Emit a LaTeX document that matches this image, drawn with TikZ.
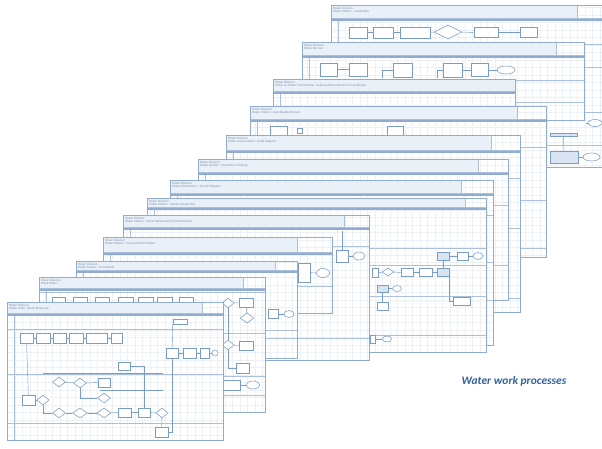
\documentclass[tikz,border=0pt]{standalone}
\usepackage{fontspec}
\setmainfont{Carlito}
\usepackage{tikz}
\usetikzlibrary{shapes,shapes.geometric}
\definecolor{linec}{RGB}{170,192,220}
\definecolor{rulec}{RGB}{145,172,207}
\definecolor{headc}{RGB}{234,240,248}
\definecolor{gridc}{RGB}{236,241,247}
\definecolor{nodec}{RGB}{122,157,200}
\definecolor{nodefill}{RGB}{216,228,242}
\definecolor{textc}{RGB}{125,145,172}
\definecolor{titlec}{RGB}{52,98,156}
\tikzstyle{task}=[draw=nodec,fill=white,line width=0.55pt,inner sep=0pt,minimum width=12pt,minimum height=9pt]
\tikzstyle{dark task}=[task,fill=nodefill]
\tikzstyle{gate}=[task,shape=diamond]
\tikzstyle{terminal}=[task,shape=ellipse]
\tikzstyle{flow}=[draw=nodec,line width=0.45pt]
\tikzstyle{headtext}=[anchor=north west,inner sep=0pt,align=left,text=textc,font=\fontsize{3.3}{3.9}\selectfont]
% one sheet: x1, y1, x2, y2, header height, box width, title, subtitle, lanes
\newcommand{\wsheet}[9]{%
  \fill[white] (#1,#2) rectangle (#3,#4);
  \begin{scope}
    \clip (#1,#2) rectangle (#3,#4);
    \draw[gridc,line width=0.3pt,step=7.5pt] (#1,#2) grid (#3,#4);
  \end{scope}
  \filldraw[fill=headc,draw=linec,line width=0.5pt] (#1,#2) rectangle ({#3-#6},{#2+#5});
  \draw[linec,line width=0.5pt] ({#3-#6},#2) rectangle (#3,{#2+#5});
  \draw[rulec,line width=0.6pt] (#1,{#2+#5+1.2}) -- (#3,{#2+#5+1.2});
  \draw[rulec,line width=0.4pt] (#1,{#2+#5+2.6}) -- (#3,{#2+#5+2.6});
  \foreach \ly in {#9} \draw[linec,line width=0.5pt] (#1,\ly) -- (#3,\ly);
  \draw[linec,line width=0.5pt] ({#1+7},{#2+#5+2.6}) -- ({#1+7},#4);
  \draw[rulec,line width=0.5pt] (#1,#2) rectangle (#3,#4);
  \node[style=headtext] (title-#1) at ({#1+2},{#2+1.6}) {#7\\#8};
}

\begin{document}
\begin{tikzpicture}[x=1pt,y=-1pt]
	\useasboundingbox (0,0) rectangle (602,448);
	\fill[white] (0,0) rectangle (602,448);

	% sheet 1
	\wsheet{331}{5}{612}{167}{13}{35}{Water Division}{Water Meters - Installation}{44,67,112,145}
	\node [style=task, minimum width=18pt, minimum height=11pt] (s1a) at (358, 32.5) {};
	\node [style=task, minimum width=20pt, minimum height=11pt] (s1b) at (383, 32.5) {};
	\node [style=task, minimum width=30pt, minimum height=11pt] (s1c) at (415, 32.5) {};
	\node [style=gate, minimum width=28pt, minimum height=14pt] (s1d) at (448, 32) {};
	\node [style=task, minimum width=24pt, minimum height=10pt] (s1e) at (486, 32.5) {};
	\node [style=task, minimum width=17pt, minimum height=10pt] (s1f) at (528.5, 32.5) {};
	\node [style=dark task, minimum width=27pt, minimum height=3pt] (s1g) at (563.5, 134.5) {};
	\node [style=dark task, minimum width=28pt, minimum height=12pt] (s1h) at (564, 157) {};
	\node [style=terminal, minimum width=17pt, minimum height=8pt] (s1i) at (591.5, 157) {};
	\node [style=terminal, minimum width=14pt, minimum height=7pt] (s1j) at (595, 123) {};
	\coordinate (s1k) at (586, 123);
	\draw [style=flow] (s1a) to (s1b);
	\draw [style=flow] (s1b) to (s1c);
	\draw [style=flow] (s1c) to (s1d);
	\draw [style=flow] (s1d) to (s1e);
	\draw [style=flow] (s1e) to (s1f);
	\draw [style=flow] (s1g) to (s1h);
	\draw [style=flow] (s1h) to (s1i);
	\draw [style=flow] (s1k) to (s1j);

	% sheet 2
	\wsheet{302}{42}{584}{120}{13}{28}{Water Division}{Water Service}{80,102}
	\node [style=task, minimum width=17pt, minimum height=13pt] (s2a) at (328.5, 69.5) {};
	\node [style=task, minimum width=18pt, minimum height=13pt] (s2b) at (358, 69.5) {};
	\node [style=task, minimum width=19pt, minimum height=14pt] (s2c) at (402.5, 70) {};
	\node [style=task, minimum width=19pt, minimum height=14pt] (s2d) at (452.5, 70) {};
	\node [style=task, minimum width=17pt, minimum height=13pt] (s2e) at (479.5, 70) {};
	\node [style=terminal, minimum width=18pt, minimum height=8pt] (s2f) at (506, 70) {};
	\coordinate (s2x) at (382, 78);
	\coordinate (s2y) at (437, 78);
	\draw [style=flow] (s2a) to (s2b);
	\draw [style=flow] (s2x) |- (s2c);
	\draw [style=flow] (s2y) |- (s2d);
	\draw [style=flow] (s2d) to (s2e);
	\draw [style=flow] (s2e) to (s2f);

	% sheet 3
	\wsheet{273}{79}{515}{230}{12}{0}{Water Division}{Check on Water Connections - Leak Location and Service Line Repair}{110}

	% sheet 4
	\wsheet{250}{106}{546}{257}{13}{29}{Water Division}{Water Meters - Auto Reads/Manual}{147,200,248}
	\node [style=task, minimum width=17pt, minimum height=9pt] (s4a) at (278.5, 131) {};
	\node [style=task, minimum width=5pt, minimum height=5pt] (s4b) at (300, 131) {};
	\node [style=task, minimum width=16pt, minimum height=9pt] (s4c) at (395, 131) {};

	% sheet 5
	\wsheet{226}{135}{520}{312}{15}{29}{Water Division}{Water Conservation - Audit Request}{178,228,298}

	% sheet 6
	\wsheet{198}{159}{508}{300}{13}{30}{Water Division}{Water Quality - Preventive Flushing}{205,265}

	% sheet 7
	\wsheet{170}{180}{493}{345}{13}{32}{Water Division}{Water Distribution - Service Request}{215,262,300}

	% sheet 8
	\wsheet{147}{198}{486}{352}{9}{21}{Water Division}{Water Meters - Meter Change Out}{248,265,296,335}
	\node [style=dark task, minimum width=12pt, minimum height=8pt] (e1) at (443, 256) {};
	\node [style=task, minimum width=11pt, minimum height=8pt] (e2) at (462.5, 256) {};
	\node [style=terminal, minimum width=10pt, minimum height=7pt] (e3) at (478, 256) {};
	\node [style=task, minimum width=6pt, minimum height=9pt] (e4) at (375, 272.5) {};
	\node [style=gate, minimum width=12pt, minimum height=8pt] (e5) at (388, 272) {};
	\node [style=task, minimum width=12pt, minimum height=8pt] (e6) at (407, 272.5) {};
	\node [style=task, minimum width=13pt, minimum height=8pt] (e7) at (425.5, 272.5) {};
	\node [style=dark task, minimum width=12pt, minimum height=8pt] (e8) at (443, 272.5) {};
	\node [style=dark task, minimum width=11pt, minimum height=7pt] (e9) at (382.5, 288.5) {};
	\node [style=terminal, minimum width=9pt, minimum height=6pt] (e10) at (397, 288.5) {};
	\node [style=task, minimum width=11pt, minimum height=8pt] (e11) at (382.5, 306) {};
	\node [style=task, minimum width=5pt, minimum height=8pt] (e12) at (373, 339) {};
	\node [style=terminal, minimum width=9pt, minimum height=6pt] (e13) at (387, 339) {};
	\node [style=task, minimum width=17pt, minimum height=8pt] (e14) at (461.5, 301) {};
	\draw [style=flow] (e1) to (e2);
	\draw [style=flow] (e2) to (e3);
	\draw [style=flow] (e4) to (e5);
	\draw [style=flow] (e5) to (e6);
	\draw [style=flow] (e6) to (e7);
	\draw [style=flow] (e7) to (e8);
	\draw [style=flow] (e1) to (e8);
	\draw [style=flow] (e9) to (e10);
	\draw [style=flow] (e9) to (e11);
	\draw [style=flow] (e12) to (e13);
	\draw [style=flow] (e8.south east) |- (e14.west);

	% sheet 9
	\wsheet{123}{215}{369}{360}{12}{25}{Water Division}{Water Meters - Meter Replacement (Commercial)}{246,338}
	\node [style=task, minimum width=12pt, minimum height=12pt] (n9a) at (342, 256) {};
	\node [style=terminal, minimum width=12pt, minimum height=8pt] (n9b) at (359, 256) {};
	\coordinate (n9c) at (342, 231);
	\draw [style=flow] (n9c) to (n9a);
	\draw [style=flow] (n9a) to (n9b);

	% sheet 10
	\wsheet{103}{237}{332}{313}{15}{35}{Water Division}{Water Meters - Pressure Relief Valves}{286}
	\node [style=task, minimum width=12pt, minimum height=19pt] (n10a) at (304, 272.5) {};
	\node [style=terminal, minimum width=13pt, minimum height=9pt] (n10b) at (323, 273) {};
	\draw [style=flow] (n10a) to (n10b);

	% sheet 11
	\wsheet{76}{261}{297}{358}{9}{22}{Water Division}{Water Meters - Final Reads}{330,338}
	\node [style=task, minimum width=10pt, minimum height=9pt] (n11a) at (273, 314) {};
	\node [style=terminal, minimum width=10pt, minimum height=7pt] (n11b) at (289, 314) {};
	\draw [style=flow] (n11a) to (n11b);

	% sheet 12
	\wsheet{39}{277}{265}{412}{11}{22}{Water Division}{Work Order}{292,333,376,395}
	\foreach \ux/\uw [count=\ui] in {58.5/13, 80/14, 102/14, 125.5/15, 145.5/15, 164.5/15, 186/14}
		\node [style=task, minimum width=\uw pt, minimum height=10pt] (u\ui) at (\ux, 302) {};
	\node [style=gate, minimum width=12pt, minimum height=10pt] (s12a) at (228, 303) {};
	\node [style=task, minimum width=14pt, minimum height=9pt] (s12b) at (246, 302.5) {};
	\node [style=gate, minimum width=14pt, minimum height=10pt] (s12c) at (247, 318) {};
	\node [style=gate, minimum width=12pt, minimum height=10pt] (s12d) at (228, 345) {};
	\node [style=task, minimum width=14pt, minimum height=9pt] (s12e) at (246, 345.5) {};
	\node [style=task, minimum width=13pt, minimum height=10pt] (s12f) at (242.5, 368) {};
	\node [style=task, minimum width=18pt, minimum height=10pt] (s12g) at (231, 385) {};
	\node [style=terminal, minimum width=13pt, minimum height=8pt] (s12h) at (253, 385) {};
	\draw [style=flow] (s12a) to (s12b);
	\draw [style=flow] (s12b) to (s12c);
	\draw [style=flow] (s12a) to (s12d);
	\draw [style=flow] (s12d) to (s12e);
	\draw [style=flow] (s12d.south) |- (s12f.west);
	\draw [style=flow] (s12g) to (s12h);

	% sheet 13
	\wsheet{7}{302}{223}{440}{11}{21}{Water Division}{Water Main - Break Response}{329,374,423}
	\node [style=task, minimum width=13pt, minimum height=10pt] (t1) at (26.5, 338) {};
	\node [style=task, minimum width=14pt, minimum height=10pt] (t2) at (43, 338) {};
	\node [style=task, minimum width=13pt, minimum height=10pt] (t3) at (59.5, 338) {};
	\node [style=task, minimum width=14pt, minimum height=10pt] (t4) at (76, 338) {};
	\node [style=task, minimum width=21pt, minimum height=10pt] (t5) at (96.5, 338) {};
	\node [style=task, minimum width=11pt, minimum height=10pt] (t6) at (116.5, 338) {};
	\node [style=task, minimum width=14pt, minimum height=5pt] (t7) at (180, 321.5) {};
	\node [style=task, minimum width=12pt, minimum height=10pt] (t8) at (172, 353) {};
	\node [style=task, minimum width=13pt, minimum height=10pt] (t9) at (189.5, 353) {};
	\node [style=task, minimum width=9pt, minimum height=10pt] (t10) at (204.5, 353) {};
	\node [style=terminal, minimum width=6pt, minimum height=6pt] (t11) at (215, 353) {};
	\node [style=task, minimum width=12pt, minimum height=8pt] (t12) at (124, 366) {};
	\node [style=gate, minimum width=13pt, minimum height=10pt] (t13) at (59, 382) {};
	\node [style=gate, minimum width=13pt, minimum height=10pt] (t14) at (80, 383) {};
	\node [style=task, minimum width=12pt, minimum height=9pt] (t15) at (104, 382.5) {};
	\node [style=gate, minimum width=13pt, minimum height=10pt] (t16) at (104, 398) {};
	\node [style=task, minimum width=13pt, minimum height=10pt] (t17) at (28.5, 400) {};
	\node [style=gate, minimum width=12pt, minimum height=10pt] (t18) at (43, 400) {};
	\node [style=gate, minimum width=13pt, minimum height=10pt] (t19) at (59, 413) {};
	\node [style=gate, minimum width=15pt, minimum height=10pt] (t20) at (80, 413) {};
	\node [style=gate, minimum width=14pt, minimum height=10pt] (t21) at (104, 413) {};
	\node [style=task, minimum width=13pt, minimum height=9pt] (t22) at (124.5, 412.5) {};
	\node [style=task, minimum width=12pt, minimum height=9pt] (t23) at (144, 412.5) {};
	\node [style=gate, minimum width=12pt, minimum height=10pt] (t24) at (162, 413) {};
	\node [style=task, minimum width=13pt, minimum height=10pt] (t25) at (161.5, 432) {};
	\coordinate (t26) at (43, 373);
	\coordinate (t27) at (163, 373);
	\coordinate (t28) at (100, 390);
	\coordinate (t29) at (163, 390);
	\draw [style=flow] (t1) to (t2);
	\draw [style=flow] (t2) to (t3);
	\draw [style=flow] (t3) to (t4);
	\draw [style=flow] (t4) to (t5);
	\draw [style=flow] (t5) to (t6);
	\draw [style=flow] (t7.south west) to (t8);
	\draw [style=flow] (t8) to (t9);
	\draw [style=flow] (t9) to (t10);
	\draw [style=flow] (t10) to (t11);
	\draw [style=flow] (t8.south) |- (t25.east);
	\draw [style=flow] (t26) to (t27);
	\draw [style=flow] (t28) to (t29);
	\draw [style=flow] (t13) to (t14);
	\draw [style=flow] (t14) to (t15);
	\draw [style=flow] (t14.south) |- (t16.west);
	\draw [style=flow] (t1) to (t17);
	\draw [style=flow] (t17) to (t18);
	\draw [style=flow] (t18.south) |- (t19.west);
	\draw [style=flow] (t19) to (t20);
	\draw [style=flow] (t20) to (t21);
	\draw [style=flow] (t21) to (t22);
	\draw [style=flow] (t22) to (t23);
	\draw [style=flow] (t23) to (t24);
	\draw [style=flow] (t24) to (t25);
	\draw [style=flow] (t12.east) -| (t23.north);

	\node [text=titlec, font=\fontsize{11.5}{14}\selectfont\bfseries\itshape] (caption) at (514, 381) {Water work processes};
\end{tikzpicture}
\end{document}
